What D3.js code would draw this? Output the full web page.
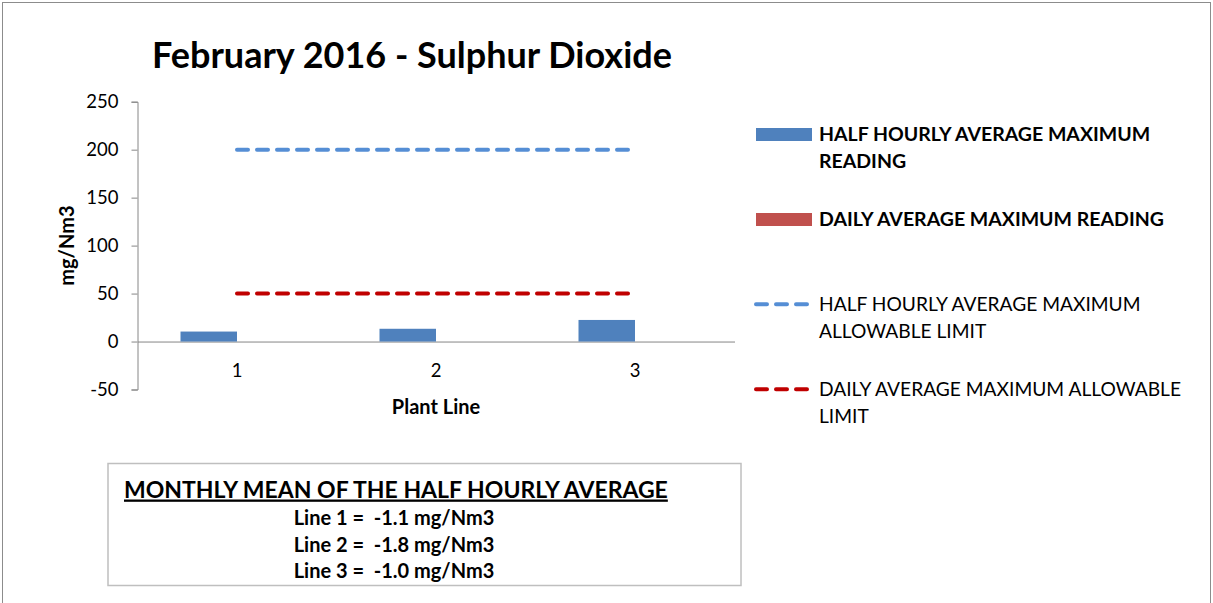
<!DOCTYPE html>
<html>
<head>
<meta charset="utf-8">
<script src="https://cdn.jsdelivr.net/npm/d3@7"></script>
<style>
  body { margin: 0; background: #fff; }
  svg { display: block; font-family: Lato, "Open Sans", sans-serif; }
</style>
</head>
<body>
<div id="chart"></div>
<script>
const categories = ['1', '2', '3'];
const halfHourlyMax = [10.4, 13.3, 22.5];
const dailyMax = [0, 0, 0];
const halfHourlyLimit = [200, 200, 200];
const dailyLimit = [50, 50, 50];
const yTicks = [-50, 0, 50, 100, 150, 200, 250];
const monthlyMeans = [
  { line: 'Line 1', value: '-1.1' },
  { line: 'Line 2', value: '-1.8' },
  { line: 'Line 3', value: '-1.0' }
];

const width = 1213;
const height = 603;

const svg = d3.select('#chart')
  .append('svg')
  .attr('width', width)
  .attr('height', height);

// outer chart border
svg.append('rect')
  .attr('x', 2.5).attr('y', 2.5)
  .attr('width', 1208).attr('height', 620)
  .attr('fill', 'none')
  .attr('stroke', '#8c8c8c');

svg.append('text')
  .attr('x', 152)
  .attr('y', 68)
  .attr('font-size', 36)
  .attr('font-weight', 'bold')
  .text('February 2016 - Sulphur Dioxide');

const x = d3.scaleBand()
  .domain(categories)
  .range([137.5, 734.5]);

const y = d3.scaleLinear()
  .domain([-50, 250])
  .range([389.5, 101.7]);

const series = ['half', 'daily'];
const sub = d3.scaleBand().domain(series).range([0, 113]);

const axisColor = '#868686';

// y axis
const yAxis = svg.append('g')
  .attr('transform', `translate(${x.range()[0]},0)`)
  .call(d3.axisLeft(y).tickValues(yTicks).tickFormat(d => String(d)).tickSize(6).tickPadding(13));
yAxis.select('.domain').attr('stroke', axisColor);
yAxis.selectAll('.tick line').attr('stroke', axisColor);
yAxis.selectAll('.tick text')
  .attr('font-family', 'Lato, sans-serif')
  .attr('font-size', 18.5)
  .attr('fill', '#000');

// x axis at zero
const xAxis = svg.append('g')
  .attr('transform', `translate(0,${y(0)})`)
  .call(d3.axisBottom(x).tickSize(0).tickSizeOuter(0).tickPadding(22));
xAxis.select('.domain').attr('stroke', axisColor);
xAxis.selectAll('.tick text')
  .attr('font-family', 'Lato, sans-serif')
  .attr('font-size', 18.5)
  .attr('fill', '#000');

svg.append('text')
  .attr('transform', `translate(74,${(y(250) + y(-50)) / 2}) rotate(-90)`)
  .attr('text-anchor', 'middle')
  .attr('font-size', 20)
  .attr('font-weight', 'bold')
  .text('mg/Nm3');

svg.append('text')
  .attr('x', (x.range()[0] + x.range()[1]) / 2)
  .attr('y', 414)
  .attr('text-anchor', 'middle')
  .attr('font-size', 20)
  .attr('font-weight', 'bold')
  .text('Plant Line');

const barColors = { half: '#4F81BD', daily: '#C0504D' };

const barData = categories.flatMap((c, i) => [
  { c, s: 'half', v: halfHourlyMax[i] },
  { c, s: 'daily', v: dailyMax[i] }
]);

svg.append('g')
  .selectAll('rect')
  .data(barData)
  .enter()
  .append('rect')
  .attr('x', d => x(d.c) + x.bandwidth() / 2 - 56.5 + sub(d.s))
  .attr('width', sub.bandwidth())
  .attr('y', d => y(Math.max(0, d.v)))
  .attr('height', d => Math.abs(y(d.v) - y(0)))
  .attr('fill', d => barColors[d.s]);

const line = d3.line()
  .x(d => x(d[0]) + x.bandwidth() / 2)
  .y(d => y(d[1]));

const limits = [
  { values: halfHourlyLimit, color: '#558ED5' },
  { values: dailyLimit, color: '#C00000' }
];

limits.forEach(l => {
  svg.append('path')
    .attr('d', line(categories.map((c, i) => [c, l.values[i]])))
    .attr('fill', 'none')
    .attr('stroke', l.color)
    .attr('stroke-width', 4)
    .attr('stroke-linecap', 'round')
    .attr('stroke-dasharray', '11 9');
});

// legend
const legend = svg.append('g');
const legendItems = [
  { type: 'bar', color: '#4F81BD', bold: true, lines: ['HALF HOURLY AVERAGE MAXIMUM', 'READING'], y: 134.5 },
  { type: 'bar', color: '#C0504D', bold: true, lines: ['DAILY AVERAGE MAXIMUM READING'], y: 219.5 },
  { type: 'line', color: '#558ED5', bold: false, lines: ['HALF HOURLY AVERAGE MAXIMUM', 'ALLOWABLE LIMIT'], y: 304.3 },
  { type: 'line', color: '#C00000', bold: false, lines: ['DAILY AVERAGE MAXIMUM ALLOWABLE', 'LIMIT'], y: 389.3 }
];

legendItems.forEach(item => {
  if (item.type === 'bar') {
    legend.append('rect')
      .attr('x', 756).attr('y', item.y - 6.5)
      .attr('width', 56).attr('height', 13)
      .attr('fill', item.color);
  } else {
    legend.append('line')
      .attr('x1', 756).attr('x2', 808)
      .attr('y1', item.y).attr('y2', item.y)
      .attr('stroke', item.color)
      .attr('stroke-width', 4)
      .attr('stroke-linecap', 'round')
      .attr('stroke-dasharray', '11 9');
  }
  const t = legend.append('text')
    .attr('x', 819)
    .attr('y', item.y + 6.5)
    .attr('font-size', item.bold ? 19.5 : 19.2)
    .attr('font-weight', item.bold ? 'bold' : 'normal');
  item.lines.forEach((ln, i) => {
    t.append('tspan')
      .attr('x', 819)
      .attr('dy', i === 0 ? 0 : 27.3)
      .text(ln);
  });
});

// monthly mean box
const box = svg.append('g');
box.append('rect')
  .attr('x', 108).attr('y', 463.5)
  .attr('width', 633).attr('height', 122)
  .attr('fill', '#fff')
  .attr('stroke', '#bfbfbf')
  .attr('stroke-width', 1.5);

box.append('text')
  .attr('x', 124)
  .attr('y', 497.5)
  .attr('font-size', 23)
  .attr('font-weight', 'bold')
  .attr('text-decoration', 'underline')
  .text('MONTHLY MEAN OF THE HALF HOURLY AVERAGE');

box.selectAll('.mean')
  .data(monthlyMeans)
  .enter()
  .append('text')
  .attr('class', 'mean')
  .attr('x', 394)
  .attr('y', (d, i) => 525 + i * 26.5)
  .attr('text-anchor', 'middle')
  .attr('font-size', 20)
  .attr('font-weight', 'bold')
  .style('white-space', 'pre')
  .text(d => `${d.line} =  ${d.value} mg/Nm3`);
</script>
</body>
</html>
